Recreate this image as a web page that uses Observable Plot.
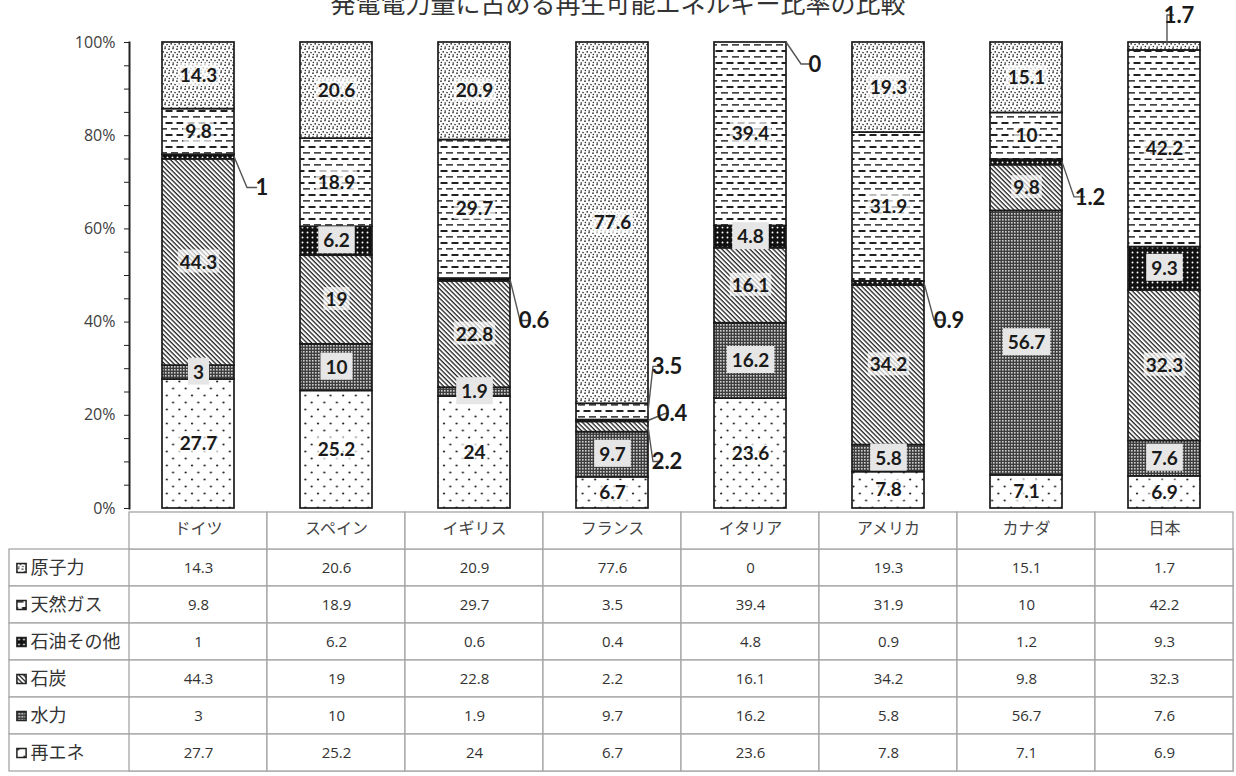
<!DOCTYPE html>
<html><head><meta charset="utf-8">
<script src="https://cdn.jsdelivr.net/npm/d3@7"></script>
<script src="https://cdn.jsdelivr.net/npm/@observablehq/plot@0.6"></script>
<style>
html,body{margin:0;padding:0;background:#fff}
body{width:1236px;height:776px;overflow:hidden;position:relative}
#title{position:absolute;z-index:5;top:-10px;left:0;width:1236px;text-align:center;font-family:"Noto Sans CJK JP";font-size:25px;line-height:25px;color:#333}
#chart svg,#table svg{display:block}
#table{margin-top:-14px;position:relative}
</style></head><body>
<svg width="0" height="0" style="position:absolute;left:0;top:0">
<defs>
<pattern id="p-nuc" patternUnits="userSpaceOnUse" width="8" height="8">
<rect width="8" height="8" fill="#fff"/>
<g fill="#2a2a2a"><circle cx="1" cy="1.2" r="0.85"/><circle cx="5" cy="0.6" r="0.8"/><circle cx="3.2" cy="3.8" r="0.85"/><circle cx="7" cy="4.6" r="0.8"/><circle cx="1.4" cy="6.5" r="0.8"/><circle cx="5.2" cy="7" r="0.85"/></g>
</pattern>
<pattern id="p-gas" patternUnits="userSpaceOnUse" width="11" height="12">
<rect width="11" height="12" fill="#fff"/>
<rect x="0.5" y="2" width="7" height="2" fill="#222"/>
<rect x="6" y="8" width="7" height="1.7" fill="#444"/>
<rect x="-5" y="8" width="7" height="1.7" fill="#444"/>
</pattern>
<pattern id="p-oil" patternUnits="userSpaceOnUse" width="5" height="5">
<rect width="5" height="5" fill="#111"/>
<circle cx="2.5" cy="2.5" r="0.95" fill="#fff"/>
</pattern>
<pattern id="p-coal" patternUnits="userSpaceOnUse" width="3.3" height="3.3" patternTransform="rotate(-45)">
<rect width="3.3" height="3.3" fill="#fff"/>
<line x1="1" y1="0" x2="1" y2="3.3" stroke="#222" stroke-width="1.3"/>
</pattern>
<pattern id="p-hyd" patternUnits="userSpaceOnUse" width="3" height="3">
<rect width="3" height="3" fill="#3e3e3e"/>
<rect width="1.6" height="1.6" fill="#d0d0d0"/>
</pattern>
<pattern id="p-ren" patternUnits="userSpaceOnUse" width="12.6" height="14">
<rect width="12.6" height="14" fill="#fff"/>
<circle cx="3" cy="3.5" r="1.1" fill="#222"/>
<circle cx="9.3" cy="10.5" r="1.1" fill="#222"/>
</pattern>
</defs></svg>
<div id="chart"></div>
<div id="table"></div>
<div id="title">発電電力量に占める再生可能エネルギー比率の比較</div>
<script>
// ---- data ----
const countries = ["ドイツ","スペイン","イギリス","フランス","イタリア","アメリカ","カナダ","日本"];
const seriesTopDown = ["原子力","天然ガス","石油その他","石炭","水力","再エネ"];
const nuclear = [14.3,20.6,20.9,77.6,0,19.3,15.1,1.7];
const gas     = [9.8,18.9,29.7,3.5,39.4,31.9,10,42.2];
const oil     = [1,6.2,0.6,0.4,4.8,0.9,1.2,9.3];
const coal    = [44.3,19,22.8,2.2,16.1,34.2,9.8,32.3];
const hydro   = [3,10,1.9,9.7,16.2,5.8,56.7,7.6];
const renew   = [27.7,25.2,24,6.7,23.6,7.8,7.1,6.9];
const outsideLabels = [["ドイツ","石油その他"],["イギリス","石油その他"],["フランス","天然ガス"],["フランス","石油その他"],["フランス","石炭"],["イタリア","原子力"],["アメリカ","石油その他"],["カナダ","石油その他"],["日本","原子力"]];

const valuesBySeries = {"原子力":nuclear,"天然ガス":gas,"石油その他":oil,"石炭":coal,"水力":hydro,"再エネ":renew};
const stackOrder = seriesTopDown.slice().reverse();
const patternOf = {"原子力":"url(#p-nuc)","天然ガス":"url(#p-gas)","石油その他":"url(#p-oil)","石炭":"url(#p-coal)","水力":"url(#p-hyd)","再エネ":"url(#p-ren)"};
const data = [];
countries.forEach((c,i)=>stackOrder.forEach(s=>data.push({country:c,series:s,value:valuesBySeries[s][i]})));
const isOutside = d => outsideLabels.some(([c,s])=>c===d.country && s===d.series);
const darkSeries = new Set(["石油その他","水力"]);

// ---- chart ----
const chart = Plot.plot({
  width:1236, height:522,
  marginLeft:129, marginRight:3, marginTop:42, marginBottom:14,
  style:{fontFamily:"Open Sans", fontSize:"16px", color:"#404040", background:"transparent"},
  x:{domain:countries, paddingInner:0.478, paddingOuter:0.239, axis:null},
  y:{domain:[0,1], axis:null},
  color:{type:"ordinal", domain:stackOrder, range:stackOrder.map(s=>patternOf[s])},
  marks:[
    Plot.barY(data, Plot.stackY({x:"country", y:"value", fill:"series", offset:"normalize", stroke:"#1a1a1a", strokeWidth:1.7})),
    Plot.text(data, Plot.stackY({x:"country", y:"value", z:"series", offset:"normalize",
      text:d=>(!isOutside(d) && darkSeries.has(d.series)) ? String(d.value) : null,
      fontFamily:"Lato", fontWeight:"bold", fontSize:19, fill:"#1a1a1a", ariaDescription:"lab-dark"})),
    Plot.text(data, Plot.stackY({x:"country", y:"value", z:"series", offset:"normalize",
      text:d=>(!isOutside(d) && !darkSeries.has(d.series)) ? String(d.value) : null,
      fontFamily:"Lato", fontWeight:"bold", fontSize:19, fill:"#1a1a1a", ariaDescription:"lab-light"})),
    Plot.axisY({ticks:d3.range(0,21).map(i=>i/20), tickSize:5, tickPadding:9, label:null,
      tickFormat:d=>(Math.round(d*20)%4===0) ? Math.round(d*100)+"%" : "",
      stroke:"#222", fill:"#404040", fontSize:16}),
    Plot.frame({anchor:"left", stroke:"#222", strokeWidth:2})
  ]
});
document.getElementById("chart").append(chart);

function addBoxes(desc, fill, px, py){
  d3.select(chart).selectAll(`g[aria-description="${desc}"] text`).each(function(){
    const b = this.getBBox();
    d3.select(this.parentNode).insert("rect", ()=>this)
      .attr("x", b.x-px).attr("y", b.y-py).attr("width", b.width+2*px).attr("height", b.height+2*py)
      .attr("fill", fill).attr("transform", this.getAttribute("transform"));
  });
}
addBoxes("lab-dark", "#e6e6e6", 5, 2);
addBoxes("lab-light", "rgba(255,255,255,0.7)", 2, 0);

// leader lines for small segments
const leaderStyle = {
  "ドイツ|石油その他":{kx:13, dy:31, h:10},
  "イギリス|石油その他":{kx:10, dy:41, h:9},
  "フランス|天然ガス":{kx:5, dy:-45, h:9},
  "フランス|石油その他":{kx:17, dy:-7, h:2},
  "フランス|石炭":{kx:5, dy:35, h:9},
  "イタリア|原子力":{kx:15, dy:22, h:9},
  "アメリカ|石油その他":{kx:10, dy:37, h:10},
  "カナダ|石油その他":{kx:12, dy:35, h:11},
  "日本|原子力":{vertical:true, dy:-29, h:7}
};
const sx = chart.scale("x"), sy = chart.scale("y");
const bw = sx.bandwidth;
const lg = d3.select(chart).append("g");
outsideLabels.forEach(([c,s])=>{
  const i = countries.indexOf(c);
  const vals = stackOrder.map(k=>valuesBySeries[k][i]);
  const total = d3.sum(vals);
  const k = stackOrder.indexOf(s);
  const lo = d3.sum(vals.slice(0,k))/total, hi = lo + vals[k]/total;
  const st = leaderStyle[c+"|"+s];
  let pts, tx, ty;
  if (st.vertical) {
    const x0 = sx.apply(c) + bw/2 + 3, y0 = sy.apply(hi) + 2;
    ty = y0 + st.dy;
    pts = [[x0,y0],[x0,ty],[x0+st.h,ty]];
    tx = x0 + st.h + 5;
  } else {
    const x0 = sx.apply(c) + bw, y0 = sy.apply((lo+hi)/2);
    ty = y0 + st.dy;
    pts = [[x0,y0],[x0+st.kx,ty],[x0+st.kx+st.h,ty]];
    tx = x0 + st.kx + st.h + 5;
  }
  lg.append("path").attr("d", d3.line()(pts)).attr("fill","none").attr("stroke","#555").attr("stroke-width",1.4);
  lg.append("text").attr("x", tx).attr("y", ty).attr("dy","0.36em")
    .attr("font-family","Lato").attr("font-weight","bold").attr("font-size",22).attr("fill","#1a1a1a")
    .text(String(vals[k]));
});

// ---- table ----
const tableCells = [];
seriesTopDown.forEach(s=>countries.forEach((c,i)=>tableCells.push({country:c, series:s, value:valuesBySeries[s][i]})));
const table = Plot.plot({
  width:1236, height:268,
  marginLeft:9, marginRight:3, marginTop:1, marginBottom:3,
  style:{fontFamily:"Open Sans", fontSize:"14px", color:"#333", background:"transparent"},
  x:{domain:countries, range:[129,1233], padding:0, axis:null},
  y:{domain:["header", ...seriesTopDown], padding:0, axis:null},
  color:{type:"ordinal", domain:stackOrder, range:stackOrder.map(s=>patternOf[s])},
  marks:[
    Plot.cell(seriesTopDown, {y:d=>d, fill:"white", stroke:"#a6a6a6", strokeWidth:1.3, inset:0}),
    Plot.cell(tableCells, {x:"country", y:"series", fill:"white", stroke:"#a6a6a6", strokeWidth:1.3, inset:0}),
    Plot.cell(countries, {x:d=>d, y:()=>"header", fill:"white", stroke:"#a6a6a6", strokeWidth:1.3, inset:0}),
    Plot.text(tableCells, {x:"country", y:"series", text:d=>String(d.value), fontFamily:"Open Sans", fontSize:15, fill:"#333"}),
    Plot.text(countries, {x:d=>d, y:()=>"header", text:d=>d, dy:-2, fontFamily:"Noto Sans CJK JP", fontSize:16, fill:"#444"}),
    Plot.dot(seriesTopDown, {y:d=>d, frameAnchor:"left", dx:12, symbol:"square", r:5.2, fill:d=>d, stroke:"#222", strokeWidth:1.5}),
    Plot.text(seriesTopDown, {y:d=>d, text:d=>d, frameAnchor:"left", dx:21, textAnchor:"start", fontFamily:"Noto Sans CJK JP", fontSize:18, fill:"#333"})
  ]
});
document.getElementById("table").append(table);
</script>
</body></html>
